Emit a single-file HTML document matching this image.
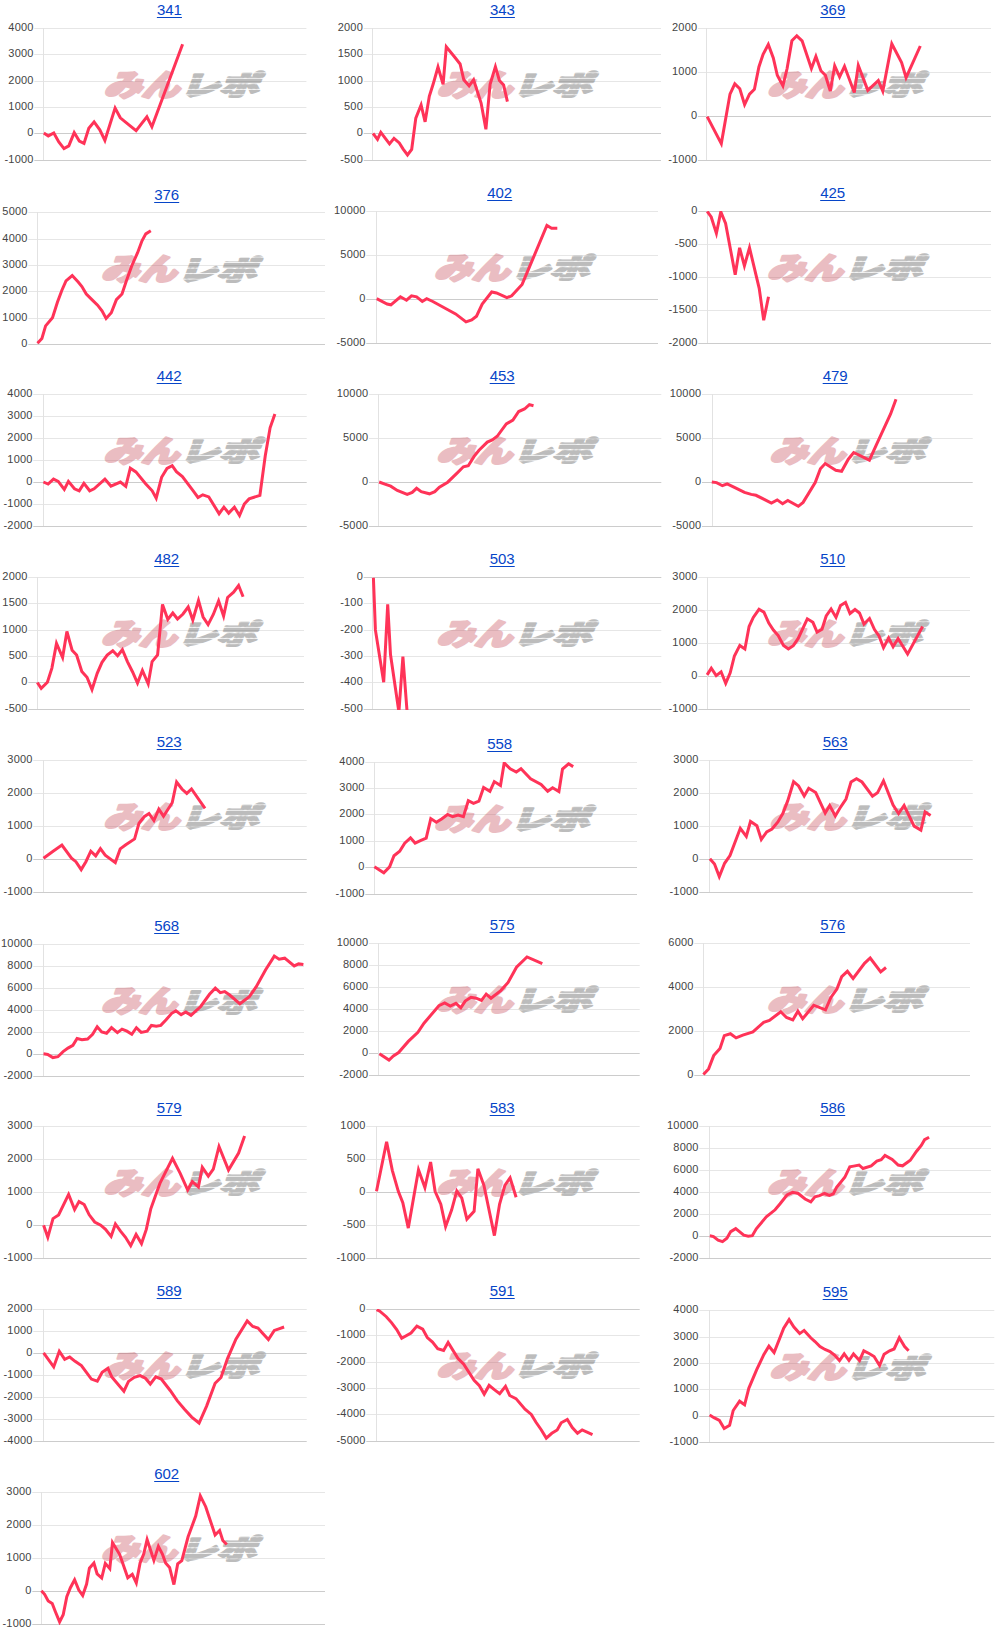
<!DOCTYPE html>
<html><head><meta charset="utf-8">
<style>
html,body{margin:0;padding:0;background:#fff;}
body{width:999px;height:1647px;position:relative;overflow:hidden;font-family:"Liberation Sans",Arial,sans-serif;}
a{position:absolute;width:80px;text-align:center;font-size:15px;line-height:20px;color:#0645c8;text-decoration:underline;text-underline-offset:2px;}
svg{position:absolute;left:0;top:0;}
.lab{font-family:"Liberation Sans",Arial,sans-serif;font-size:11px;fill:#444;text-anchor:end;letter-spacing:0.2px;}
.wm1{font-family:"Noto Sans CJK JP",sans-serif;font-weight:900;font-size:30px;fill:rgb(198,69,84);stroke:rgb(198,69,84);stroke-width:2.5px;stroke-linejoin:round;opacity:0.35;}
.wm2{font-family:"Noto Sans CJK JP",sans-serif;font-weight:900;font-size:27px;fill:url(#sp);stroke:url(#sp);stroke-width:2.5px;stroke-linejoin:round;opacity:0.38;}
</style></head><body>
<svg width="999" height="1647" viewBox="0 0 999 1647">
<defs><pattern id="sp" width="10" height="5.5" patternUnits="userSpaceOnUse"><rect width="10" height="4.5" fill="rgb(80,80,80)"/></pattern><clipPath id="c341"><rect x="34.3" y="28.0" width="272.1" height="133"/></clipPath><clipPath id="c343"><rect x="363.7" y="28.0" width="297.3" height="133"/></clipPath><clipPath id="c369"><rect x="698.0" y="28.0" width="293.0" height="133"/></clipPath><clipPath id="c376"><rect x="28.3" y="212.3" width="296.7" height="133"/></clipPath><clipPath id="c402"><rect x="366.3" y="211.0" width="291.7" height="133"/></clipPath><clipPath id="c425"><rect x="698.3" y="211.0" width="292.7" height="133"/></clipPath><clipPath id="c442"><rect x="33.3" y="394.0" width="273.4" height="133"/></clipPath><clipPath id="c453"><rect x="369.0" y="394.0" width="292.3" height="133"/></clipPath><clipPath id="c479"><rect x="702.0" y="394.0" width="270.7" height="133"/></clipPath><clipPath id="c482"><rect x="28.3" y="577.0" width="275.7" height="133"/></clipPath><clipPath id="c503"><rect x="363.7" y="577.0" width="297.6" height="133"/></clipPath><clipPath id="c510"><rect x="698.3" y="577.0" width="271.7" height="133"/></clipPath><clipPath id="c523"><rect x="33.3" y="760.0" width="273.4" height="133"/></clipPath><clipPath id="c558"><rect x="365.3" y="761.9" width="271.7" height="133"/></clipPath><clipPath id="c563"><rect x="699.3" y="760.0" width="273.4" height="133"/></clipPath><clipPath id="c568"><rect x="33.3" y="944.4" width="270.7" height="133"/></clipPath><clipPath id="c575"><rect x="369.0" y="943.0" width="270.7" height="133"/></clipPath><clipPath id="c576"><rect x="694.3" y="943.0" width="275.7" height="133"/></clipPath><clipPath id="c579"><rect x="33.3" y="1126.0" width="273.4" height="133"/></clipPath><clipPath id="c583"><rect x="366.3" y="1126.0" width="273.4" height="133"/></clipPath><clipPath id="c586"><rect x="699.3" y="1126.0" width="291.7" height="133"/></clipPath><clipPath id="c589"><rect x="33.3" y="1309.0" width="273.4" height="133"/></clipPath><clipPath id="c591"><rect x="366.3" y="1309.0" width="273.4" height="133"/></clipPath><clipPath id="c595"><rect x="699.3" y="1310.3" width="295.0" height="133"/></clipPath><clipPath id="c602"><rect x="32.3" y="1492.0" width="292.7" height="133"/></clipPath></defs>
<rect x="34.3" y="28" width="272.1" height="1" fill="#e6e6e6"/>
<text class="lab" x="33.6" y="31.0">4000</text>
<rect x="34.3" y="54" width="272.1" height="1" fill="#e6e6e6"/>
<text class="lab" x="33.6" y="57.0">3000</text>
<rect x="34.3" y="81" width="272.1" height="1" fill="#e6e6e6"/>
<text class="lab" x="33.6" y="84.0">2000</text>
<rect x="34.3" y="107" width="272.1" height="1" fill="#e6e6e6"/>
<text class="lab" x="33.6" y="110.0">1000</text>
<rect x="34.3" y="133" width="272.1" height="1" fill="#cccccc"/>
<text class="lab" x="33.6" y="136.0">0</text>
<rect x="34.3" y="160" width="272.1" height="1" fill="#cccccc"/>
<text class="lab" x="33.6" y="163.0">-1000</text>
<rect x="43" y="28" width="1" height="132" fill="#e2e2e2"/>
<text class="wm1" transform="translate(103.5,96.0) skewX(-20) scale(1.26,1)">みん</text>
<text class="wm2" transform="translate(180.2,95.3) skewX(-20) scale(1.45,1)">レポ</text>
<polyline clip-path="url(#c341)" points="43.8,132.9 48.3,135.9 53.8,133.0 58.8,141.9 64.0,148.6 68.8,145.9 74.2,132.6 79.3,141.1 84.0,143.4 88.8,128.3 94.1,121.9 99.8,129.8 104.9,140.4 115.1,108.1 120.3,117.8 128.6,124.6 136.1,130.6 146.9,116.8 151.9,126.8 182.6,44.3" fill="none" stroke="#ff3358" stroke-width="3"/>
<rect x="363.7" y="28" width="297.3" height="1" fill="#e6e6e6"/>
<text class="lab" x="363.0" y="31.0">2000</text>
<rect x="363.7" y="54" width="297.3" height="1" fill="#e6e6e6"/>
<text class="lab" x="363.0" y="57.0">1500</text>
<rect x="363.7" y="81" width="297.3" height="1" fill="#e6e6e6"/>
<text class="lab" x="363.0" y="84.0">1000</text>
<rect x="363.7" y="107" width="297.3" height="1" fill="#e6e6e6"/>
<text class="lab" x="363.0" y="110.0">500</text>
<rect x="363.7" y="133" width="297.3" height="1" fill="#cccccc"/>
<text class="lab" x="363.0" y="136.0">0</text>
<rect x="363.7" y="160" width="297.3" height="1" fill="#cccccc"/>
<text class="lab" x="363.0" y="163.0">-500</text>
<rect x="372" y="28" width="1" height="132" fill="#e2e2e2"/>
<text class="wm1" transform="translate(436.5,96.0) skewX(-20) scale(1.26,1)">みん</text>
<text class="wm2" transform="translate(513.1,95.3) skewX(-20) scale(1.45,1)">レポ</text>
<polyline clip-path="url(#c343)" points="373.0,133.4 377.5,139.4 380.8,132.3 389.5,143.9 394.0,138.3 399.3,142.9 403.0,148.9 407.5,154.9 411.7,149.3 415.8,118.1 421.1,104.9 425.1,121.8 429.3,96.3 433.1,84.3 438.0,67.0 443.1,84.3 446.3,46.8 454.8,57.3 460.1,64.0 463.8,79.8 469.1,85.8 473.6,79.8 481.1,103.1 485.9,129.3 490.1,84.3 495.4,66.7 499.4,80.5 503.6,85.0 507.4,101.6" fill="none" stroke="#ff3358" stroke-width="3"/>
<rect x="698.0" y="28" width="293.0" height="1" fill="#e6e6e6"/>
<text class="lab" x="697.3" y="31.0">2000</text>
<rect x="698.0" y="72" width="293.0" height="1" fill="#e6e6e6"/>
<text class="lab" x="697.3" y="75.0">1000</text>
<rect x="698.0" y="116" width="293.0" height="1" fill="#cccccc"/>
<text class="lab" x="697.3" y="119.0">0</text>
<rect x="698.0" y="160" width="293.0" height="1" fill="#cccccc"/>
<text class="lab" x="697.3" y="163.0">-1000</text>
<rect x="706" y="28" width="1" height="132" fill="#e2e2e2"/>
<text class="wm1" transform="translate(766.9,96.0) skewX(-20) scale(1.26,1)">みん</text>
<text class="wm2" transform="translate(843.6,95.3) skewX(-20) scale(1.45,1)">レポ</text>
<polyline clip-path="url(#c369)" points="707.2,116.6 721.3,143.6 730.0,94.1 734.8,83.9 739.8,88.8 744.6,104.6 749.5,94.1 754.4,89.3 758.9,67.0 763.1,54.3 768.3,44.5 773.3,58.0 777.3,75.3 782.9,85.8 787.1,68.5 791.9,40.8 796.8,35.8 802.1,40.8 811.4,68.5 815.9,56.5 820.9,70.8 825.4,75.3 830.3,91.1 834.7,65.8 839.6,76.8 844.5,66.3 854.3,92.6 858.3,65.5 867.8,90.3 878.3,80.6 882.8,91.1 891.8,43.8 901.6,62.5 906.1,77.6 920.3,46.0" fill="none" stroke="#ff3358" stroke-width="3"/>
<rect x="28.3" y="212" width="296.7" height="1" fill="#e6e6e6"/>
<text class="lab" x="27.6" y="215.0">5000</text>
<rect x="28.3" y="239" width="296.7" height="1" fill="#e6e6e6"/>
<text class="lab" x="27.6" y="242.0">4000</text>
<rect x="28.3" y="265" width="296.7" height="1" fill="#e6e6e6"/>
<text class="lab" x="27.6" y="268.0">3000</text>
<rect x="28.3" y="291" width="296.7" height="1" fill="#e6e6e6"/>
<text class="lab" x="27.6" y="294.0">2000</text>
<rect x="28.3" y="318" width="296.7" height="1" fill="#e6e6e6"/>
<text class="lab" x="27.6" y="321.0">1000</text>
<rect x="28.3" y="344" width="296.7" height="1" fill="#cccccc"/>
<text class="lab" x="27.6" y="347.0">0</text>
<rect x="37" y="212" width="1" height="132" fill="#e2e2e2"/>
<text class="wm1" transform="translate(100.8,280.3) skewX(-20) scale(1.26,1)">みん</text>
<text class="wm2" transform="translate(177.5,279.6) skewX(-20) scale(1.45,1)">レポ</text>
<polyline clip-path="url(#c376)" points="37.5,343.2 41.9,338.4 45.6,325.9 52.5,317.7 57.5,302.1 61.9,290.2 66.0,280.8 72.2,275.6 78.2,282.1 81.9,286.5 86.3,294.0 91.9,299.6 97.6,305.2 102.0,310.9 106.1,318.4 111.3,312.7 116.4,299.6 122.0,294.0 126.4,280.8 132.0,265.2 137.6,252.7 142.0,240.8 145.8,233.9 150.8,230.8" fill="none" stroke="#ff3358" stroke-width="3"/>
<rect x="366.3" y="211" width="291.7" height="1" fill="#e6e6e6"/>
<text class="lab" x="365.6" y="214.0">10000</text>
<rect x="366.3" y="255" width="291.7" height="1" fill="#e6e6e6"/>
<text class="lab" x="365.6" y="258.0">5000</text>
<rect x="366.3" y="299" width="291.7" height="1" fill="#cccccc"/>
<text class="lab" x="365.6" y="302.0">0</text>
<rect x="366.3" y="343" width="291.7" height="1" fill="#cccccc"/>
<text class="lab" x="365.6" y="346.0">-5000</text>
<rect x="376" y="211" width="1" height="132" fill="#e2e2e2"/>
<text class="wm1" transform="translate(433.8,279.0) skewX(-20) scale(1.26,1)">みん</text>
<text class="wm2" transform="translate(510.5,278.3) skewX(-20) scale(1.45,1)">レポ</text>
<polyline clip-path="url(#c402)" points="376.7,298.7 387.1,304.0 390.9,304.8 400.4,296.8 406.5,300.2 411.5,295.8 416.6,296.8 422.3,301.5 426.7,298.7 432.8,301.5 455.6,313.9 466.0,321.9 471.7,320.0 476.5,316.2 482.2,304.0 491.7,292.0 496.5,293.0 506.9,297.7 511.7,295.8 522.1,284.4 546.9,225.5 551.6,228.3 557.3,228.3" fill="none" stroke="#ff3358" stroke-width="3"/>
<rect x="698.3" y="211" width="292.7" height="1" fill="#cccccc"/>
<text class="lab" x="697.6" y="214.0">0</text>
<rect x="698.3" y="244" width="292.7" height="1" fill="#e6e6e6"/>
<text class="lab" x="697.6" y="247.0">-500</text>
<rect x="698.3" y="277" width="292.7" height="1" fill="#e6e6e6"/>
<text class="lab" x="697.6" y="280.0">-1000</text>
<rect x="698.3" y="310" width="292.7" height="1" fill="#e6e6e6"/>
<text class="lab" x="697.6" y="313.0">-1500</text>
<rect x="698.3" y="343" width="292.7" height="1" fill="#cccccc"/>
<text class="lab" x="697.6" y="346.0">-2000</text>
<rect x="707" y="211" width="1" height="132" fill="#e2e2e2"/>
<text class="wm1" transform="translate(766.8,279.0) skewX(-20) scale(1.26,1)">みん</text>
<text class="wm2" transform="translate(843.5,278.3) skewX(-20) scale(1.45,1)">レポ</text>
<polyline clip-path="url(#c425)" points="707.2,211.4 711.2,217.0 716.4,233.4 720.8,211.8 725.6,223.4 735.2,274.7 739.6,247.8 744.4,265.8 749.5,247.8 759.2,288.3 763.7,320.3 768.5,296.7" fill="none" stroke="#ff3358" stroke-width="3"/>
<rect x="33.3" y="394" width="273.4" height="1" fill="#e6e6e6"/>
<text class="lab" x="32.6" y="397.0">4000</text>
<rect x="33.3" y="416" width="273.4" height="1" fill="#e6e6e6"/>
<text class="lab" x="32.6" y="419.0">3000</text>
<rect x="33.3" y="438" width="273.4" height="1" fill="#e6e6e6"/>
<text class="lab" x="32.6" y="441.0">2000</text>
<rect x="33.3" y="460" width="273.4" height="1" fill="#e6e6e6"/>
<text class="lab" x="32.6" y="463.0">1000</text>
<rect x="33.3" y="482" width="273.4" height="1" fill="#cccccc"/>
<text class="lab" x="32.6" y="485.0">0</text>
<rect x="33.3" y="504" width="273.4" height="1" fill="#e6e6e6"/>
<text class="lab" x="32.6" y="507.0">-1000</text>
<rect x="33.3" y="526" width="273.4" height="1" fill="#cccccc"/>
<text class="lab" x="32.6" y="529.0">-2000</text>
<rect x="43" y="394" width="1" height="132" fill="#e2e2e2"/>
<text class="wm1" transform="translate(103.3,462.0) skewX(-20) scale(1.26,1)">みん</text>
<text class="wm2" transform="translate(180.0,461.3) skewX(-20) scale(1.45,1)">レポ</text>
<polyline clip-path="url(#c442)" points="43.4,482.0 48.1,484.1 53.5,479.1 58.2,481.4 64.3,489.5 68.4,481.4 74.5,488.8 79.2,490.8 83.9,483.4 89.7,490.8 94.1,488.8 104.9,479.1 110.9,486.1 120.4,482.0 125.8,486.4 130.3,468.2 135.9,471.9 145.4,483.4 152.2,490.8 156.2,498.2 161.6,477.3 167.0,468.5 172.2,465.7 176.4,471.7 182.4,476.5 193.2,490.9 198.0,497.5 202.8,494.8 208.8,496.9 219.1,513.7 223.9,507.1 228.7,513.1 234.4,507.1 239.5,515.5 244.3,504.1 249.1,498.9 259.9,495.3 265.3,455.5 270.1,427.8 274.9,414.0" fill="none" stroke="#ff3358" stroke-width="3"/>
<rect x="369.0" y="394" width="292.3" height="1" fill="#e6e6e6"/>
<text class="lab" x="368.3" y="397.0">10000</text>
<rect x="369.0" y="438" width="292.3" height="1" fill="#e6e6e6"/>
<text class="lab" x="368.3" y="441.0">5000</text>
<rect x="369.0" y="482" width="292.3" height="1" fill="#cccccc"/>
<text class="lab" x="368.3" y="485.0">0</text>
<rect x="369.0" y="526" width="292.3" height="1" fill="#cccccc"/>
<text class="lab" x="368.3" y="529.0">-5000</text>
<rect x="378" y="394" width="1" height="132" fill="#e2e2e2"/>
<text class="wm1" transform="translate(436.3,462.0) skewX(-20) scale(1.26,1)">みん</text>
<text class="wm2" transform="translate(513.0,461.3) skewX(-20) scale(1.45,1)">レポ</text>
<polyline clip-path="url(#c453)" points="379.1,482.0 384.9,484.2 390.7,486.2 397.3,490.5 407.2,494.4 412.2,492.4 416.6,488.3 421.2,491.6 429.5,493.8 434.8,491.6 439.4,487.2 447.7,482.2 456.8,473.4 463.4,466.8 468.3,465.7 474.1,456.4 479.0,450.3 487.3,442.1 492.3,439.9 497.2,436.3 506.3,423.9 512.9,420.1 518.7,411.5 524.5,409.0 529.4,404.6 533.5,405.7" fill="none" stroke="#ff3358" stroke-width="3"/>
<rect x="702.0" y="394" width="270.7" height="1" fill="#e6e6e6"/>
<text class="lab" x="701.3" y="397.0">10000</text>
<rect x="702.0" y="438" width="270.7" height="1" fill="#e6e6e6"/>
<text class="lab" x="701.3" y="441.0">5000</text>
<rect x="702.0" y="482" width="270.7" height="1" fill="#cccccc"/>
<text class="lab" x="701.3" y="485.0">0</text>
<rect x="702.0" y="526" width="270.7" height="1" fill="#cccccc"/>
<text class="lab" x="701.3" y="529.0">-5000</text>
<rect x="712" y="394" width="1" height="132" fill="#e2e2e2"/>
<text class="wm1" transform="translate(769.3,462.0) skewX(-20) scale(1.26,1)">みん</text>
<text class="wm2" transform="translate(846.0,461.3) skewX(-20) scale(1.45,1)">レポ</text>
<polyline clip-path="url(#c479)" points="711.8,481.9 716.6,482.6 722.4,485.7 727.2,483.8 734.9,487.6 744.5,492.4 751.2,494.4 756.0,495.3 771.4,503.0 777.2,499.9 782.6,503.8 787.8,500.5 798.3,506.3 803.1,502.4 815.2,482.6 820.4,468.8 825.2,463.6 835.8,470.3 841.6,471.3 848.3,459.2 853.7,452.5 869.4,460.2 876.8,443.8 890.6,414.0 896.0,399.2" fill="none" stroke="#ff3358" stroke-width="3"/>
<rect x="28.3" y="577" width="275.7" height="1" fill="#e6e6e6"/>
<text class="lab" x="27.6" y="580.0">2000</text>
<rect x="28.3" y="603" width="275.7" height="1" fill="#e6e6e6"/>
<text class="lab" x="27.6" y="606.0">1500</text>
<rect x="28.3" y="630" width="275.7" height="1" fill="#e6e6e6"/>
<text class="lab" x="27.6" y="633.0">1000</text>
<rect x="28.3" y="656" width="275.7" height="1" fill="#e6e6e6"/>
<text class="lab" x="27.6" y="659.0">500</text>
<rect x="28.3" y="682" width="275.7" height="1" fill="#cccccc"/>
<text class="lab" x="27.6" y="685.0">0</text>
<rect x="28.3" y="709" width="275.7" height="1" fill="#cccccc"/>
<text class="lab" x="27.6" y="712.0">-500</text>
<rect x="37" y="577" width="1" height="132" fill="#e2e2e2"/>
<text class="wm1" transform="translate(100.8,645.0) skewX(-20) scale(1.26,1)">みん</text>
<text class="wm2" transform="translate(177.5,644.3) skewX(-20) scale(1.45,1)">レポ</text>
<polyline clip-path="url(#c482)" points="37.3,682.5 41.2,688.3 47.4,682.2 51.9,668.1 56.5,643.4 62.6,657.5 66.9,631.5 72.1,650.2 76.6,655.1 81.8,671.4 87.0,677.3 92.0,689.6 97.2,673.4 102.0,662.3 107.2,655.1 112.8,650.8 117.6,655.8 122.4,649.7 127.4,661.6 132.6,672.0 137.5,683.1 142.4,670.5 148.2,683.8 152.1,661.6 157.6,654.9 162.5,604.5 167.8,619.5 172.8,613.0 177.5,619.0 183.0,614.0 188.2,607.0 192.8,620.0 198.5,600.5 203.1,617.0 208.1,624.6 213.3,614.5 218.6,601.0 223.6,616.0 227.6,597.5 233.6,592.2 238.6,585.5 243.1,596.8" fill="none" stroke="#ff3358" stroke-width="3"/>
<rect x="363.7" y="577" width="297.6" height="1" fill="#cccccc"/>
<text class="lab" x="363.0" y="580.0">0</text>
<rect x="363.7" y="603" width="297.6" height="1" fill="#e6e6e6"/>
<text class="lab" x="363.0" y="606.0">-100</text>
<rect x="363.7" y="630" width="297.6" height="1" fill="#e6e6e6"/>
<text class="lab" x="363.0" y="633.0">-200</text>
<rect x="363.7" y="656" width="297.6" height="1" fill="#e6e6e6"/>
<text class="lab" x="363.0" y="659.0">-300</text>
<rect x="363.7" y="682" width="297.6" height="1" fill="#e6e6e6"/>
<text class="lab" x="363.0" y="685.0">-400</text>
<rect x="363.7" y="709" width="297.6" height="1" fill="#cccccc"/>
<text class="lab" x="363.0" y="712.0">-500</text>
<rect x="372" y="577" width="1" height="132" fill="#e2e2e2"/>
<text class="wm1" transform="translate(436.3,645.0) skewX(-20) scale(1.26,1)">みん</text>
<text class="wm2" transform="translate(513.0,644.3) skewX(-20) scale(1.45,1)">レポ</text>
<polyline clip-path="url(#c503)" points="373.4,577.7 375.4,629.9 383.7,682.2 387.7,604.3 390.5,654.5 398.9,712.0 402.9,656.7 407.1,712.0" fill="none" stroke="#ff3358" stroke-width="3"/>
<rect x="698.3" y="577" width="271.7" height="1" fill="#e6e6e6"/>
<text class="lab" x="697.6" y="580.0">3000</text>
<rect x="698.3" y="610" width="271.7" height="1" fill="#e6e6e6"/>
<text class="lab" x="697.6" y="613.0">2000</text>
<rect x="698.3" y="643" width="271.7" height="1" fill="#e6e6e6"/>
<text class="lab" x="697.6" y="646.0">1000</text>
<rect x="698.3" y="676" width="271.7" height="1" fill="#cccccc"/>
<text class="lab" x="697.6" y="679.0">0</text>
<rect x="698.3" y="709" width="271.7" height="1" fill="#cccccc"/>
<text class="lab" x="697.6" y="712.0">-1000</text>
<rect x="707" y="577" width="1" height="132" fill="#e2e2e2"/>
<text class="wm1" transform="translate(766.8,645.0) skewX(-20) scale(1.26,1)">みん</text>
<text class="wm2" transform="translate(843.5,644.3) skewX(-20) scale(1.45,1)">レポ</text>
<polyline clip-path="url(#c510)" points="707.1,674.9 711.3,668.2 716.2,675.6 721.1,671.8 725.7,683.3 730.2,672.8 734.4,656.0 739.8,645.4 744.9,649.0 749.1,626.5 753.3,617.4 759.0,609.3 763.9,612.1 768.8,623.0 773.4,630.0 778.2,635.6 783.5,645.4 788.4,649.0 793.3,645.7 798.2,638.4 807.3,618.8 812.9,622.3 817.1,632.1 822.0,629.3 826.2,616.0 831.1,609.0 836.0,617.4 840.5,605.5 845.5,602.5 850.0,613.5 855.0,609.5 859.5,613.0 864.0,624.0 869.5,618.5 874.5,629.5 879.0,636.0 883.5,647.6 888.6,638.0 893.1,646.6 898.1,638.5 907.6,654.1 922.6,626.5" fill="none" stroke="#ff3358" stroke-width="3"/>
<rect x="33.3" y="760" width="273.4" height="1" fill="#e6e6e6"/>
<text class="lab" x="32.6" y="763.0">3000</text>
<rect x="33.3" y="793" width="273.4" height="1" fill="#e6e6e6"/>
<text class="lab" x="32.6" y="796.0">2000</text>
<rect x="33.3" y="826" width="273.4" height="1" fill="#e6e6e6"/>
<text class="lab" x="32.6" y="829.0">1000</text>
<rect x="33.3" y="859" width="273.4" height="1" fill="#cccccc"/>
<text class="lab" x="32.6" y="862.0">0</text>
<rect x="33.3" y="892" width="273.4" height="1" fill="#cccccc"/>
<text class="lab" x="32.6" y="895.0">-1000</text>
<rect x="43" y="760" width="1" height="132" fill="#e2e2e2"/>
<text class="wm1" transform="translate(103.3,828.0) skewX(-20) scale(1.26,1)">みん</text>
<text class="wm2" transform="translate(180.0,827.3) skewX(-20) scale(1.45,1)">レポ</text>
<polyline clip-path="url(#c523)" points="43.5,858.2 53.1,851.2 61.9,845.1 71.5,858.2 75.9,861.7 81.2,869.6 85.9,861.7 90.8,851.2 95.7,855.9 100.4,848.6 105.2,855.2 115.3,862.6 120.2,848.9 125.8,844.7 134.6,838.9 139.0,823.2 144.2,816.7 149.0,813.5 153.9,820.5 158.8,809.2 163.5,816.2 172.2,802.7 176.6,782.0 181.9,789.0 186.8,793.4 191.5,789.0 205.0,808.3" fill="none" stroke="#ff3358" stroke-width="3"/>
<rect x="365.3" y="762" width="271.7" height="1" fill="#e6e6e6"/>
<text class="lab" x="364.6" y="765.0">4000</text>
<rect x="365.3" y="788" width="271.7" height="1" fill="#e6e6e6"/>
<text class="lab" x="364.6" y="791.0">3000</text>
<rect x="365.3" y="814" width="271.7" height="1" fill="#e6e6e6"/>
<text class="lab" x="364.6" y="817.0">2000</text>
<rect x="365.3" y="841" width="271.7" height="1" fill="#e6e6e6"/>
<text class="lab" x="364.6" y="844.0">1000</text>
<rect x="365.3" y="867" width="271.7" height="1" fill="#cccccc"/>
<text class="lab" x="364.6" y="870.0">0</text>
<rect x="365.3" y="894" width="271.7" height="1" fill="#cccccc"/>
<text class="lab" x="364.6" y="897.0">-1000</text>
<rect x="374" y="762" width="1" height="132" fill="#e2e2e2"/>
<text class="wm1" transform="translate(433.8,829.9) skewX(-20) scale(1.26,1)">みん</text>
<text class="wm2" transform="translate(510.5,829.2) skewX(-20) scale(1.45,1)">レポ</text>
<polyline clip-path="url(#c558)" points="374.4,866.8 383.8,872.8 389.6,866.8 394.0,855.7 399.7,851.3 404.7,843.1 410.5,837.8 415.1,843.1 420.9,840.3 426.2,838.1 430.8,818.6 436.3,822.2 441.6,818.9 447.6,814.5 452.6,816.7 458.1,815.0 463.4,816.7 468.3,800.7 473.5,803.4 478.9,801.2 483.6,787.5 489.9,791.3 494.3,781.6 500.5,785.6 504.2,762.9 510.2,768.8 516.3,772.1 521.0,768.8 530.6,778.7 541.1,784.5 547.7,791.3 552.6,787.8 558.9,791.6 562.5,769.1 568.6,763.8 573.2,766.6" fill="none" stroke="#ff3358" stroke-width="3"/>
<rect x="699.3" y="760" width="273.4" height="1" fill="#e6e6e6"/>
<text class="lab" x="698.6" y="763.0">3000</text>
<rect x="699.3" y="793" width="273.4" height="1" fill="#e6e6e6"/>
<text class="lab" x="698.6" y="796.0">2000</text>
<rect x="699.3" y="826" width="273.4" height="1" fill="#e6e6e6"/>
<text class="lab" x="698.6" y="829.0">1000</text>
<rect x="699.3" y="859" width="273.4" height="1" fill="#cccccc"/>
<text class="lab" x="698.6" y="862.0">0</text>
<rect x="699.3" y="892" width="273.4" height="1" fill="#cccccc"/>
<text class="lab" x="698.6" y="895.0">-1000</text>
<rect x="709" y="760" width="1" height="132" fill="#e2e2e2"/>
<text class="wm1" transform="translate(769.3,828.0) skewX(-20) scale(1.26,1)">みん</text>
<text class="wm2" transform="translate(846.0,827.3) skewX(-20) scale(1.45,1)">レポ</text>
<polyline clip-path="url(#c563)" points="709.9,858.8 714.5,864.0 719.3,876.6 724.6,863.3 730.0,855.6 740.3,828.3 746.3,836.4 750.5,821.5 756.9,825.7 761.3,839.5 766.7,831.8 772.0,829.0 777.9,822.0 782.8,813.5 787.7,800.9 793.6,781.7 798.6,785.9 804.2,796.0 808.7,788.3 815.7,792.5 825.2,813.1 829.7,805.5 835.3,815.9 840.0,808.0 846.0,799.0 851.0,782.0 856.5,778.8 862.0,782.0 872.5,796.2 877.5,792.8 883.5,780.8 893.1,805.0 898.6,813.5 904.1,805.5 914.1,826.1 920.9,830.1 925.1,812.0 930.6,815.5" fill="none" stroke="#ff3358" stroke-width="3"/>
<rect x="33.3" y="944" width="270.7" height="1" fill="#e6e6e6"/>
<text class="lab" x="32.6" y="947.0">10000</text>
<rect x="33.3" y="966" width="270.7" height="1" fill="#e6e6e6"/>
<text class="lab" x="32.6" y="969.0">8000</text>
<rect x="33.3" y="988" width="270.7" height="1" fill="#e6e6e6"/>
<text class="lab" x="32.6" y="991.0">6000</text>
<rect x="33.3" y="1010" width="270.7" height="1" fill="#e6e6e6"/>
<text class="lab" x="32.6" y="1013.0">4000</text>
<rect x="33.3" y="1032" width="270.7" height="1" fill="#e6e6e6"/>
<text class="lab" x="32.6" y="1035.0">2000</text>
<rect x="33.3" y="1054" width="270.7" height="1" fill="#cccccc"/>
<text class="lab" x="32.6" y="1057.0">0</text>
<rect x="33.3" y="1076" width="270.7" height="1" fill="#cccccc"/>
<text class="lab" x="32.6" y="1079.0">-2000</text>
<rect x="43" y="944" width="1" height="132" fill="#e2e2e2"/>
<text class="wm1" transform="translate(100.8,1012.4) skewX(-20) scale(1.26,1)">みん</text>
<text class="wm2" transform="translate(177.5,1011.7) skewX(-20) scale(1.45,1)">レポ</text>
<polyline clip-path="url(#c568)" points="43.5,1053.7 47.7,1054.4 52.9,1057.6 57.9,1056.7 63.1,1051.6 68.0,1048.1 72.9,1045.3 77.1,1038.5 82.0,1039.7 87.6,1039.0 92.6,1034.3 97.2,1026.8 101.7,1031.9 106.6,1033.3 111.5,1027.7 117.4,1032.6 122.0,1029.1 126.9,1031.2 131.8,1034.3 136.4,1027.7 141.2,1032.4 147.2,1031.2 151.4,1025.4 156.3,1026.3 160.8,1025.4 166.1,1019.8 171.7,1013.3 175.9,1010.9 181.1,1014.6 185.8,1011.9 191.0,1015.3 200.7,1006.5 209.5,994.3 215.3,988.2 220.3,992.6 224.7,991.6 229.7,995.0 239.9,1003.8 249.3,996.8 256.1,986.9 265.5,970.0 274.3,956.1 279.1,959.2 284.7,958.2 294.2,965.9 298.6,963.9 303.4,964.6" fill="none" stroke="#ff3358" stroke-width="3"/>
<rect x="369.0" y="943" width="270.7" height="1" fill="#e6e6e6"/>
<text class="lab" x="368.3" y="946.0">10000</text>
<rect x="369.0" y="965" width="270.7" height="1" fill="#e6e6e6"/>
<text class="lab" x="368.3" y="968.0">8000</text>
<rect x="369.0" y="987" width="270.7" height="1" fill="#e6e6e6"/>
<text class="lab" x="368.3" y="990.0">6000</text>
<rect x="369.0" y="1009" width="270.7" height="1" fill="#e6e6e6"/>
<text class="lab" x="368.3" y="1012.0">4000</text>
<rect x="369.0" y="1031" width="270.7" height="1" fill="#e6e6e6"/>
<text class="lab" x="368.3" y="1034.0">2000</text>
<rect x="369.0" y="1053" width="270.7" height="1" fill="#cccccc"/>
<text class="lab" x="368.3" y="1056.0">0</text>
<rect x="369.0" y="1075" width="270.7" height="1" fill="#cccccc"/>
<text class="lab" x="368.3" y="1078.0">-2000</text>
<rect x="378" y="943" width="1" height="132" fill="#e2e2e2"/>
<text class="wm1" transform="translate(436.3,1011.0) skewX(-20) scale(1.26,1)">みん</text>
<text class="wm2" transform="translate(513.0,1010.3) skewX(-20) scale(1.45,1)">レポ</text>
<polyline clip-path="url(#c575)" points="379.4,1053.7 389.0,1060.0 393.4,1056.0 398.6,1052.5 408.3,1041.4 417.9,1032.3 424.0,1023.2 438.9,1005.7 444.7,1002.9 450.3,1006.1 455.9,1003.4 460.8,1007.8 465.2,1001.1 471.0,997.3 476.2,998.2 481.5,1000.4 486.2,994.1 491.0,998.2 500.8,990.6 508.1,982.4 516.5,967.2 527.0,957.0 542.3,963.7" fill="none" stroke="#ff3358" stroke-width="3"/>
<rect x="694.3" y="943" width="275.7" height="1" fill="#e6e6e6"/>
<text class="lab" x="693.6" y="946.0">6000</text>
<rect x="694.3" y="987" width="275.7" height="1" fill="#e6e6e6"/>
<text class="lab" x="693.6" y="990.0">4000</text>
<rect x="694.3" y="1031" width="275.7" height="1" fill="#e6e6e6"/>
<text class="lab" x="693.6" y="1034.0">2000</text>
<rect x="694.3" y="1075" width="275.7" height="1" fill="#cccccc"/>
<text class="lab" x="693.6" y="1078.0">0</text>
<rect x="703" y="943" width="1" height="132" fill="#e2e2e2"/>
<text class="wm1" transform="translate(766.8,1011.0) skewX(-20) scale(1.26,1)">みん</text>
<text class="wm2" transform="translate(843.5,1010.3) skewX(-20) scale(1.45,1)">レポ</text>
<polyline clip-path="url(#c576)" points="703.4,1074.6 708.6,1068.9 713.7,1055.6 720.0,1048.5 724.3,1035.6 730.4,1033.7 736.1,1037.9 742.8,1035.2 752.9,1031.8 763.7,1022.3 769.4,1020.4 780.8,1011.8 786.5,1017.5 792.8,1020.0 797.9,1011.2 802.7,1018.8 813.7,1005.2 825.5,1009.9 830.9,997.5 836.9,989.0 841.7,976.6 847.4,971.3 853.1,978.5 864.5,963.3 870.2,958.0 880.7,971.9 886.0,967.5" fill="none" stroke="#ff3358" stroke-width="3"/>
<rect x="33.3" y="1126" width="273.4" height="1" fill="#e6e6e6"/>
<text class="lab" x="32.6" y="1129.0">3000</text>
<rect x="33.3" y="1159" width="273.4" height="1" fill="#e6e6e6"/>
<text class="lab" x="32.6" y="1162.0">2000</text>
<rect x="33.3" y="1192" width="273.4" height="1" fill="#e6e6e6"/>
<text class="lab" x="32.6" y="1195.0">1000</text>
<rect x="33.3" y="1225" width="273.4" height="1" fill="#cccccc"/>
<text class="lab" x="32.6" y="1228.0">0</text>
<rect x="33.3" y="1258" width="273.4" height="1" fill="#cccccc"/>
<text class="lab" x="32.6" y="1261.0">-1000</text>
<rect x="43" y="1126" width="1" height="132" fill="#e2e2e2"/>
<text class="wm1" transform="translate(103.3,1194.0) skewX(-20) scale(1.26,1)">みん</text>
<text class="wm2" transform="translate(180.0,1193.3) skewX(-20) scale(1.45,1)">レポ</text>
<polyline clip-path="url(#c579)" points="43.6,1225.2 47.8,1237.3 53.0,1218.6 58.6,1215.0 68.6,1194.4 74.6,1209.6 79.0,1201.6 84.2,1204.5 89.2,1214.8 94.7,1222.0 100.7,1225.2 105.5,1229.4 111.1,1236.4 115.4,1224.0 120.5,1231.2 125.5,1237.3 130.7,1245.7 136.1,1234.5 141.5,1243.6 146.3,1229.4 150.8,1208.8 154.4,1198.8 159.9,1183.4 165.4,1172.3 172.5,1158.3 180.2,1173.4 187.7,1190.0 192.3,1181.7 198.4,1186.9 202.3,1167.4 208.3,1176.2 213.3,1169.0 219.0,1146.5 228.5,1170.1 238.6,1153.1 244.6,1136.0" fill="none" stroke="#ff3358" stroke-width="3"/>
<rect x="366.3" y="1126" width="273.4" height="1" fill="#e6e6e6"/>
<text class="lab" x="365.6" y="1129.0">1000</text>
<rect x="366.3" y="1159" width="273.4" height="1" fill="#e6e6e6"/>
<text class="lab" x="365.6" y="1162.0">500</text>
<rect x="366.3" y="1192" width="273.4" height="1" fill="#cccccc"/>
<text class="lab" x="365.6" y="1195.0">0</text>
<rect x="366.3" y="1225" width="273.4" height="1" fill="#e6e6e6"/>
<text class="lab" x="365.6" y="1228.0">-500</text>
<rect x="366.3" y="1258" width="273.4" height="1" fill="#cccccc"/>
<text class="lab" x="365.6" y="1261.0">-1000</text>
<rect x="376" y="1126" width="1" height="132" fill="#e2e2e2"/>
<text class="wm1" transform="translate(436.3,1194.0) skewX(-20) scale(1.26,1)">みん</text>
<text class="wm2" transform="translate(513.0,1193.3) skewX(-20) scale(1.45,1)">レポ</text>
<polyline clip-path="url(#c583)" points="376.5,1191.3 386.6,1141.8 392.3,1170.3 398.3,1191.3 402.8,1202.6 408.3,1228.1 418.5,1169.8 424.9,1187.6 430.6,1162.0 435.1,1191.3 440.8,1204.1 445.6,1226.6 451.6,1210.1 456.8,1190.9 461.8,1198.1 466.9,1219.1 474.1,1211.3 477.9,1168.8 483.9,1185.3 494.4,1235.6 499.6,1204.1 504.9,1185.3 510.1,1177.8 516.1,1197.3" fill="none" stroke="#ff3358" stroke-width="3"/>
<rect x="699.3" y="1126" width="291.7" height="1" fill="#e6e6e6"/>
<text class="lab" x="698.6" y="1129.0">10000</text>
<rect x="699.3" y="1148" width="291.7" height="1" fill="#e6e6e6"/>
<text class="lab" x="698.6" y="1151.0">8000</text>
<rect x="699.3" y="1170" width="291.7" height="1" fill="#e6e6e6"/>
<text class="lab" x="698.6" y="1173.0">6000</text>
<rect x="699.3" y="1192" width="291.7" height="1" fill="#e6e6e6"/>
<text class="lab" x="698.6" y="1195.0">4000</text>
<rect x="699.3" y="1214" width="291.7" height="1" fill="#e6e6e6"/>
<text class="lab" x="698.6" y="1217.0">2000</text>
<rect x="699.3" y="1236" width="291.7" height="1" fill="#cccccc"/>
<text class="lab" x="698.6" y="1239.0">0</text>
<rect x="699.3" y="1258" width="291.7" height="1" fill="#cccccc"/>
<text class="lab" x="698.6" y="1261.0">-2000</text>
<rect x="709" y="1126" width="1" height="132" fill="#e2e2e2"/>
<text class="wm1" transform="translate(766.8,1194.0) skewX(-20) scale(1.26,1)">みん</text>
<text class="wm2" transform="translate(843.5,1193.3) skewX(-20) scale(1.45,1)">レポ</text>
<polyline clip-path="url(#c586)" points="709.8,1235.7 713.5,1236.6 718.1,1240.1 722.5,1241.6 726.9,1238.2 730.7,1231.6 735.7,1228.6 743.8,1235.1 748.2,1236.3 752.3,1235.7 756.3,1228.8 766.3,1216.9 775.1,1209.8 780.1,1203.8 787.0,1195.0 792.6,1192.3 798.2,1193.5 805.1,1199.0 810.8,1201.9 814.9,1196.9 819.5,1195.7 824.5,1193.5 829.4,1195.5 833.3,1193.9 836.6,1187.3 844.8,1177.3 849.8,1166.9 853.6,1166.1 859.1,1165.0 863.0,1168.5 871.2,1165.8 876.8,1161.1 881.2,1159.7 885.0,1155.5 892.2,1159.5 898.2,1165.0 902.6,1165.8 910.3,1160.3 916.4,1151.5 921.3,1145.4 924.6,1139.7 929.1,1137.2" fill="none" stroke="#ff3358" stroke-width="3"/>
<rect x="33.3" y="1309" width="273.4" height="1" fill="#e6e6e6"/>
<text class="lab" x="32.6" y="1312.0">2000</text>
<rect x="33.3" y="1331" width="273.4" height="1" fill="#e6e6e6"/>
<text class="lab" x="32.6" y="1334.0">1000</text>
<rect x="33.3" y="1353" width="273.4" height="1" fill="#cccccc"/>
<text class="lab" x="32.6" y="1356.0">0</text>
<rect x="33.3" y="1375" width="273.4" height="1" fill="#e6e6e6"/>
<text class="lab" x="32.6" y="1378.0">-1000</text>
<rect x="33.3" y="1397" width="273.4" height="1" fill="#e6e6e6"/>
<text class="lab" x="32.6" y="1400.0">-2000</text>
<rect x="33.3" y="1419" width="273.4" height="1" fill="#e6e6e6"/>
<text class="lab" x="32.6" y="1422.0">-3000</text>
<rect x="33.3" y="1441" width="273.4" height="1" fill="#cccccc"/>
<text class="lab" x="32.6" y="1444.0">-4000</text>
<rect x="43" y="1309" width="1" height="132" fill="#e2e2e2"/>
<text class="wm1" transform="translate(103.3,1377.0) skewX(-20) scale(1.26,1)">みん</text>
<text class="wm2" transform="translate(180.0,1376.3) skewX(-20) scale(1.45,1)">レポ</text>
<polyline clip-path="url(#c589)" points="43.6,1352.8 53.7,1366.9 59.3,1351.2 64.7,1359.3 69.7,1357.0 75.1,1361.3 81.4,1365.6 91.4,1379.1 97.3,1381.2 102.2,1372.3 107.9,1368.2 111.8,1376.9 123.9,1391.2 128.5,1381.4 134.3,1377.3 140.2,1375.6 145.4,1378.2 150.3,1384.0 155.8,1376.9 161.3,1379.1 170.2,1390.5 177.4,1400.9 184.5,1409.3 191.7,1417.1 199.1,1423.0 206.6,1406.1 215.1,1383.3 221.0,1377.5 227.5,1358.6 235.9,1339.1 247.2,1320.9 252.8,1326.5 258.0,1328.0 262.6,1333.2 268.4,1339.5 274.3,1330.4 278.2,1329.1 284.1,1327.0" fill="none" stroke="#ff3358" stroke-width="3"/>
<rect x="366.3" y="1309" width="273.4" height="1" fill="#cccccc"/>
<text class="lab" x="365.6" y="1312.0">0</text>
<rect x="366.3" y="1335" width="273.4" height="1" fill="#e6e6e6"/>
<text class="lab" x="365.6" y="1338.0">-1000</text>
<rect x="366.3" y="1362" width="273.4" height="1" fill="#e6e6e6"/>
<text class="lab" x="365.6" y="1365.0">-2000</text>
<rect x="366.3" y="1388" width="273.4" height="1" fill="#e6e6e6"/>
<text class="lab" x="365.6" y="1391.0">-3000</text>
<rect x="366.3" y="1414" width="273.4" height="1" fill="#e6e6e6"/>
<text class="lab" x="365.6" y="1417.0">-4000</text>
<rect x="366.3" y="1441" width="273.4" height="1" fill="#cccccc"/>
<text class="lab" x="365.6" y="1444.0">-5000</text>
<rect x="376" y="1309" width="1" height="132" fill="#e2e2e2"/>
<text class="wm1" transform="translate(436.3,1377.0) skewX(-20) scale(1.26,1)">みん</text>
<text class="wm2" transform="translate(513.0,1376.3) skewX(-20) scale(1.45,1)">レポ</text>
<polyline clip-path="url(#c591)" points="376.6,1309.6 379.8,1311.2 386.3,1316.7 391.5,1322.6 396.7,1329.5 401.7,1338.2 411.0,1333.0 416.9,1326.1 422.7,1329.1 427.3,1337.5 432.5,1342.1 437.7,1348.6 443.6,1350.5 448.1,1342.5 457.9,1358.4 463.7,1364.2 474.1,1380.2 479.4,1385.7 484.2,1394.1 489.1,1385.4 494.3,1389.6 499.7,1393.7 505.5,1386.4 509.7,1395.5 516.0,1398.6 525.0,1409.2 531.3,1414.4 536.0,1422.3 541.2,1429.7 546.3,1438.1 551.8,1433.3 557.2,1429.9 561.2,1422.8 567.3,1419.4 572.3,1427.6 577.5,1433.3 582.2,1429.9 592.5,1434.7" fill="none" stroke="#ff3358" stroke-width="3"/>
<rect x="699.3" y="1310" width="295.0" height="1" fill="#e6e6e6"/>
<text class="lab" x="698.6" y="1313.0">4000</text>
<rect x="699.3" y="1337" width="295.0" height="1" fill="#e6e6e6"/>
<text class="lab" x="698.6" y="1340.0">3000</text>
<rect x="699.3" y="1363" width="295.0" height="1" fill="#e6e6e6"/>
<text class="lab" x="698.6" y="1366.0">2000</text>
<rect x="699.3" y="1389" width="295.0" height="1" fill="#e6e6e6"/>
<text class="lab" x="698.6" y="1392.0">1000</text>
<rect x="699.3" y="1416" width="295.0" height="1" fill="#cccccc"/>
<text class="lab" x="698.6" y="1419.0">0</text>
<rect x="699.3" y="1442" width="295.0" height="1" fill="#cccccc"/>
<text class="lab" x="698.6" y="1445.0">-1000</text>
<rect x="709" y="1310" width="1" height="132" fill="#e2e2e2"/>
<text class="wm1" transform="translate(769.3,1378.3) skewX(-20) scale(1.26,1)">みん</text>
<text class="wm2" transform="translate(846.0,1377.6) skewX(-20) scale(1.45,1)">レポ</text>
<polyline clip-path="url(#c595)" points="709.6,1414.9 714.0,1417.7 719.4,1420.5 724.2,1428.5 729.6,1425.3 733.2,1410.5 739.6,1401.2 744.6,1404.8 748.8,1388.3 756.7,1369.7 763.9,1354.4 768.9,1346.2 774.1,1352.5 783.7,1328.2 789.1,1319.6 793.9,1327.0 799.7,1333.6 804.1,1330.4 810.7,1337.8 815.0,1341.5 820.0,1346.5 825.0,1349.5 830.0,1351.5 834.5,1355.0 839.5,1360.5 844.2,1353.8 849.0,1360.5 853.5,1354.0 859.5,1360.5 863.8,1350.8 869.1,1353.5 874.1,1356.5 879.6,1365.5 884.1,1354.2 889.6,1350.8 894.1,1349.0 899.3,1337.8 904.6,1346.5 908.6,1350.8" fill="none" stroke="#ff3358" stroke-width="3"/>
<rect x="32.3" y="1492" width="292.7" height="1" fill="#e6e6e6"/>
<text class="lab" x="31.6" y="1495.0">3000</text>
<rect x="32.3" y="1525" width="292.7" height="1" fill="#e6e6e6"/>
<text class="lab" x="31.6" y="1528.0">2000</text>
<rect x="32.3" y="1558" width="292.7" height="1" fill="#e6e6e6"/>
<text class="lab" x="31.6" y="1561.0">1000</text>
<rect x="32.3" y="1591" width="292.7" height="1" fill="#cccccc"/>
<text class="lab" x="31.6" y="1594.0">0</text>
<rect x="32.3" y="1624" width="292.7" height="1" fill="#cccccc"/>
<text class="lab" x="31.6" y="1627.0">-1000</text>
<rect x="41" y="1492" width="1" height="132" fill="#e2e2e2"/>
<text class="wm1" transform="translate(100.8,1560.0) skewX(-20) scale(1.26,1)">みん</text>
<text class="wm2" transform="translate(177.5,1559.3) skewX(-20) scale(1.45,1)">レポ</text>
<polyline clip-path="url(#c602)" points="41.4,1590.7 44.6,1594.3 48.2,1600.9 52.2,1603.5 55.4,1611.7 59.6,1621.9 63.2,1614.7 66.8,1596.7 70.4,1587.7 74.6,1579.8 78.8,1590.1 82.7,1595.5 86.6,1584.1 89.4,1568.2 93.9,1563.0 97.1,1573.8 101.7,1578.0 105.3,1563.4 109.8,1568.7 112.5,1542.6 119.7,1554.6 127.8,1577.8 132.3,1574.4 136.3,1582.9 140.1,1563.0 143.7,1554.0 147.1,1539.6 153.9,1560.3 158.4,1546.3 162.4,1554.0 165.6,1563.0 169.6,1567.5 173.9,1584.6 177.7,1563.9 181.8,1560.7 188.1,1536.8 195.7,1516.1 200.3,1495.9 205.7,1506.7 215.1,1535.0 219.6,1530.5 222.8,1540.5 226.8,1544.5" fill="none" stroke="#ff3358" stroke-width="3"/>
</svg>
<a href="#" style="left:129.4px;top:0.0px">341</a>
<a href="#" style="left:462.4px;top:0.0px">343</a>
<a href="#" style="left:792.8px;top:0.0px">369</a>
<a href="#" style="left:126.7px;top:185.0px">376</a>
<a href="#" style="left:459.7px;top:183.0px">402</a>
<a href="#" style="left:792.7px;top:183.0px">425</a>
<a href="#" style="left:129.2px;top:366.0px">442</a>
<a href="#" style="left:462.2px;top:366.0px">453</a>
<a href="#" style="left:795.2px;top:366.0px">479</a>
<a href="#" style="left:126.7px;top:549.0px">482</a>
<a href="#" style="left:462.2px;top:549.0px">503</a>
<a href="#" style="left:792.7px;top:549.0px">510</a>
<a href="#" style="left:129.2px;top:732.0px">523</a>
<a href="#" style="left:459.7px;top:733.9px">558</a>
<a href="#" style="left:795.2px;top:732.0px">563</a>
<a href="#" style="left:126.7px;top:916.4px">568</a>
<a href="#" style="left:462.2px;top:915.0px">575</a>
<a href="#" style="left:792.7px;top:915.0px">576</a>
<a href="#" style="left:129.2px;top:1098.0px">579</a>
<a href="#" style="left:462.2px;top:1098.0px">583</a>
<a href="#" style="left:792.7px;top:1098.0px">586</a>
<a href="#" style="left:129.2px;top:1281.0px">589</a>
<a href="#" style="left:462.2px;top:1281.0px">591</a>
<a href="#" style="left:795.2px;top:1282.3px">595</a>
<a href="#" style="left:126.7px;top:1464.0px">602</a>
</body></html>
